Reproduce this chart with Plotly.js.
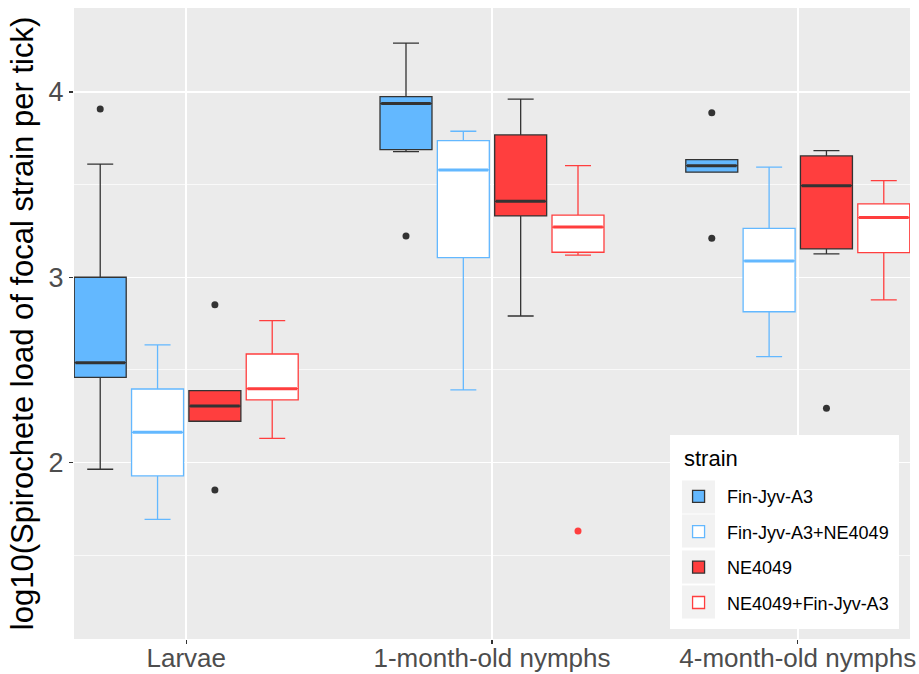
<!DOCTYPE html>
<html>
<head>
<meta charset="utf-8">
<script src="https://cdn.plot.ly/plotly-3.0.1.min.js"></script>
<style>html,body{margin:0;padding:0;background:#fff;}#chart{width:919px;height:674px;}</style>
</head>
<body>
<div id="chart"></div>
<script>
// Categories and tick labels
var categories = ["Larvae", "1-month-old nymphs", "4-month-old nymphs"];
var strains = ["Fin-Jyv-A3", "Fin-Jyv-A3+NE4049", "NE4049", "NE4049+Fin-Jyv-A3"];

// Box statistics per strain, one value per category (Larvae, 1-month, 4-month)
var finLower  = [1.964, 3.678, 3.567];
var finQ1     = [2.460, 3.689, 3.567];
var finMedian = [2.539, 3.937, 3.602];
var finQ3     = [3.000, 3.975, 3.635];
var finUpper  = [3.611, 4.263, 3.635];
var finOutX   = [0, 1, 2, 2];
var finOutY   = [3.908, 3.223, 3.888, 3.210];

var finNeLower  = [1.694, 2.392, 2.572];
var finNeQ1     = [1.928, 3.106, 2.814];
var finNeMedian = [2.163, 3.579, 3.088];
var finNeQ3     = [2.397, 3.737, 3.264];
var finNeUpper  = [2.635, 3.788, 3.594];
var finNeOutX   = [];
var finNeOutY   = [];

var neLower  = [2.223, 2.791, 3.126];
var neQ1     = [2.223, 3.331, 3.153];
var neMedian = [2.305, 3.410, 3.494];
var neQ3     = [2.388, 3.768, 3.655];
var neUpper  = [2.388, 3.961, 3.683];
var neOutX   = [0, 0, 2];
var neOutY   = [2.852, 1.852, 2.293];

var neFinLower  = [2.131, 3.120, 2.878];
var neFinQ1     = [2.338, 3.135, 3.133];
var neFinMedian = [2.399, 3.271, 3.322];
var neFinQ3     = [2.586, 3.335, 3.396];
var neFinUpper  = [2.766, 3.602, 3.521];
var neFinOutX   = [1];
var neFinOutY   = [1.631];

var yTicks = [2, 3, 4];

// Styling
var BLUE = "#63B8FF", RED = "#FF3E3E", DARK = "#333333";
var styles = [
  {fill: BLUE, line: DARK, out: DARK},
  {fill: "#FFFFFF", line: BLUE, out: BLUE},
  {fill: RED, line: DARK, out: DARK},
  {fill: "#FFFFFF", line: RED, out: RED}
];
var series = [
  {lo: finLower, q1: finQ1, med: finMedian, q3: finQ3, hi: finUpper, ox: finOutX, oy: finOutY},
  {lo: finNeLower, q1: finNeQ1, med: finNeMedian, q3: finNeQ3, hi: finNeUpper, ox: finNeOutX, oy: finNeOutY},
  {lo: neLower, q1: neQ1, med: neMedian, q3: neQ3, hi: neUpper, ox: neOutX, oy: neOutY},
  {lo: neFinLower, q1: neFinQ1, med: neFinMedian, q3: neFinQ3, hi: neFinUpper, ox: neFinOutX, oy: neFinOutY}
];

var dodge = 0.1875, boxW = 0.17;
function pos(catIdx, s) { return (catIdx + 1) + (s - 1.5) * dodge; }

var traces = [], extra = [];
series.forEach(function (d, s) {
  var xs = categories.map(function (_, i) { return pos(i, s); });
  traces.push({
    type: "box", name: strains[s], x: xs,
    q1: d.q1, median: d.med, q3: d.q3, lowerfence: d.lo, upperfence: d.hi,
    width: boxW, boxpoints: false, fillcolor: styles[s].fill,
    line: {color: styles[s].line, width: 1.3},
    legendgroup: "g" + s, hoverinfo: "skip"
  });
  var mx = [], my = [];
  xs.forEach(function (x, i) {
    mx.push(x - boxW / 2 + 0.004, x + boxW / 2 - 0.004, null);
    my.push(d.med[i], d.med[i], null);
  });
  extra.push({
    type: "scatter", mode: "lines", x: mx, y: my, showlegend: false,
    line: {color: styles[s].line, width: 3}, hoverinfo: "skip", legendgroup: "g" + s
  });
  if (d.ox.length) {
    extra.push({
      type: "scatter", mode: "markers",
      x: d.ox.map(function (c) { return pos(c, s); }), y: d.oy,
      marker: {color: styles[s].out, size: 7}, showlegend: false,
      hoverinfo: "skip", legendgroup: "g" + s
    });
  }
});

// Legend panel decoration (white box + grey key squares), in paper coordinates
var shapes = [{
  type: "rect", xref: "paper", yref: "paper",
  x0: 0.7129, x1: 0.9868, y0: 0.0158, y1: 0.3233,
  fillcolor: "#FFFFFF", line: {width: 0}, layer: "above"
}];
var keyCentersPx = [497, 531, 567, 602];
keyCentersPx.forEach(function (c) {
  shapes.push({
    type: "rect", xref: "paper", yref: "paper",
    x0: (682 - 74) / 836, x1: (715 - 74) / 836,
    y0: (639 - c - 16.5) / 631, y1: (639 - c + 16.5) / 631,
    fillcolor: "#F2F2F2", line: {width: 0}, layer: "above"
  });
});

var layout = {
  width: 919, height: 674,
  margin: {l: 74, r: 9, t: 8, b: 35},
  paper_bgcolor: "#FFFFFF", plot_bgcolor: "#EBEBEB",
  showlegend: true, boxmode: "overlay",
  font: {family: "Liberation Sans, Arial, sans-serif"},
  xaxis: {
    range: [0.633, 3.367], tickvals: [1, 2, 3], ticktext: categories,
    showgrid: true, gridcolor: "#FFFFFF", gridwidth: 1.5, zeroline: false,
    ticks: "outside", ticklen: 4, tickcolor: DARK, tickwidth: 1.2,
    ticklabelstandoff: -8,
    tickfont: {size: 26, color: "#4D4D4D"}, showline: false
  },
  yaxis: {
    range: [1.048, 4.453], tickvals: yTicks,
    showgrid: true, gridcolor: "#FFFFFF", gridwidth: 1.5, zeroline: false,
    ticks: "outside", ticklen: 4, tickcolor: DARK, tickwidth: 1.2,
    tickfont: {size: 27, color: "#4D4D4D"},
    minor: {dtick: 0.5, tick0: 0, showgrid: true, gridcolor: "#FFFFFF", gridwidth: 0.7, ticks: ""},
    title: {text: "log10(Spirochete load of focal strain per tick)", font: {size: 31, color: "#000000"}, standoff: 5}
  },
  shapes: shapes,
  annotations: [{
    text: "strain", xref: "paper", yref: "paper", x: 0.7273, y: 0.2868,
    xanchor: "left", yanchor: "middle", showarrow: false,
    font: {size: 22, color: "#000000"}
  }],
  legend: {
    x: 0.713, y: 0.255, xanchor: "left", yanchor: "top",
    bgcolor: "rgba(0,0,0,0)", borderwidth: 0, itemwidth: 47,
    font: {size: 18, color: "#000000"},
    traceorder: "grouped", tracegroupgap: 9
  }
};

Plotly.newPlot("chart", traces.concat(extra), layout, {displayModeBar: false, staticPlot: true});
</script>
</body>
</html>
